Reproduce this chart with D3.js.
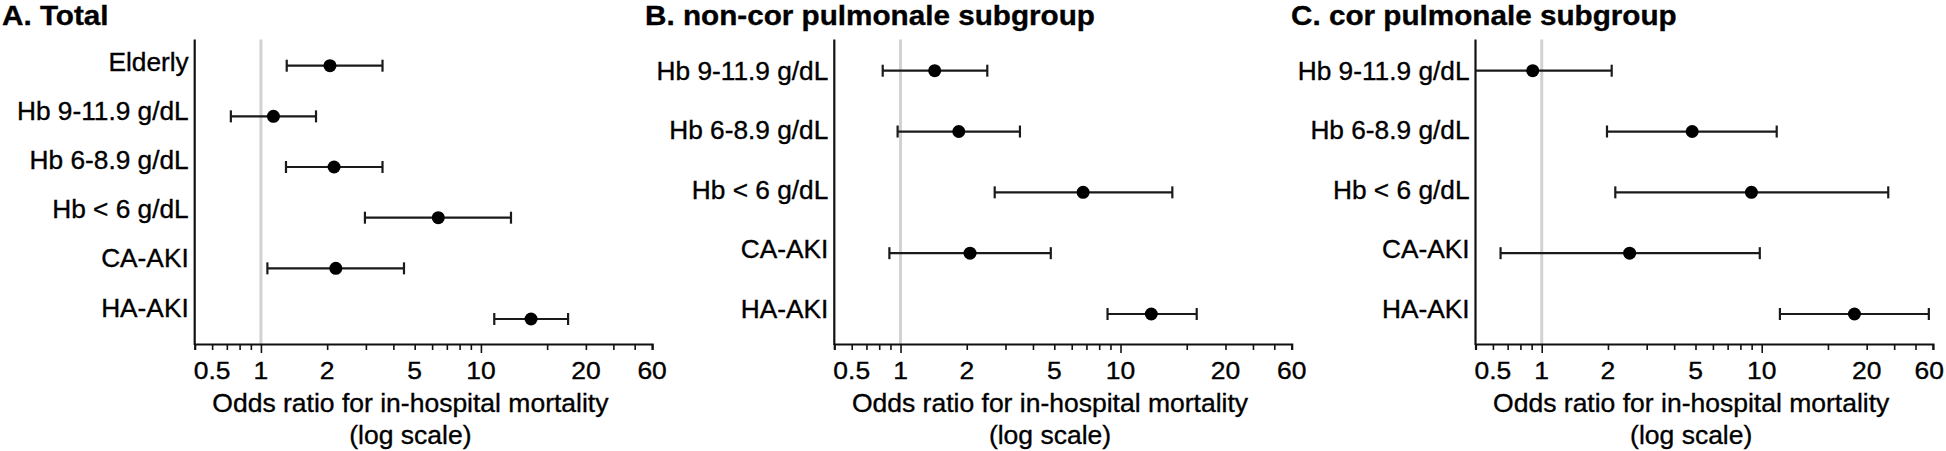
<!DOCTYPE html>
<html>
<head>
<meta charset="utf-8">
<script src="https://cdn.jsdelivr.net/npm/d3@7"></script>
<style>
  html, body { margin: 0; padding: 0; background: #fff; }
  svg { display: block; }
  text { font-family: "Liberation Sans", Arial, Helvetica, sans-serif; fill: #000; stroke: #000; stroke-width: 0.35px; }
</style>
</head>
<body>
<svg id="chart" width="1946" height="451"></svg>
<script>
// ---------------- data ----------------
const catsA = ["Elderly", "Hb 9-11.9 g/dL", "Hb 6-8.9 g/dL", "Hb < 6 g/dL", "CA-AKI", "HA-AKI"];
const orA = [2.06, 1.14, 2.15, 6.40, 2.19, 16.9];
const loA = [1.31, 0.73, 1.30, 2.97, 1.07, 11.5];
const hiA = [3.57, 1.78, 3.57, 13.7, 4.47, 24.9];

const catsB = ["Hb 9-11.9 g/dL", "Hb 6-8.9 g/dL", "Hb < 6 g/dL", "CA-AKI", "HA-AKI"];
const orB = [1.43, 1.84, 6.76, 2.07, 13.8];
const loB = [0.83, 0.97, 2.68, 0.89, 8.73];
const hiB = [2.48, 3.49, 17.2, 4.82, 22.2];

const catsC = ["Hb 9-11.9 g/dL", "Hb 6-8.9 g/dL", "Hb < 6 g/dL", "CA-AKI", "HA-AKI"];
const orC = [0.91, 4.83, 8.98, 2.51, 26.4];
const loC = [0.45, 1.98, 2.16, 0.65, 12.1];
const hiC = [2.08, 11.7, 37.6, 9.8, 57.5];

const xDomain = [0.5, 60];
const xTickVals = [0.6, 0.7, 0.8, 0.9, 1, 2, 3, 4, 5, 6, 7, 8, 9, 10, 20, 30, 40, 50, 60];
const majorTicks = [1, 10];
const tickLabelPos = [0.6, 1, 2, 5, 10, 30, 60];
const tickLabelText = ["0.5", "1", "2", "5", "10", "20", "60"];
const refValue = 1;

const titles = ["A. Total", "B. non-cor pulmonale subgroup", "C. cor pulmonale subgroup"];
const axisTitle1 = "Odds ratio for in-hospital mortality";
const axisTitle2 = "(log scale)";

// ---------------- layout ----------------
const svg = d3.select("#chart");
const W = 1946;
const plotW = 457.4, plotTop = 39.5, plotBottom = 344;

const panels = [
  { title: titles[0], titleX: 2, left: 194.7, cats: catsA, or: orA, lo: loA, hi: hiA,
    rows: [65.7, 319], labs: [62, 307.5] },
  { title: titles[1], titleX: 645, left: 834.3, cats: catsB, or: orB, lo: loB, hi: hiB,
    rows: [70.7, 314], labs: [70.7, 308.5] },
  { title: titles[2], titleX: 1291, left: 1475.5, cats: catsC, or: orC, lo: loC, hi: hiC,
    rows: [70.7, 314], labs: [70.7, 308.5] }
];

function stretchText(g, x, y, txt, opts) {
  return g.append("text")
    .attr("transform", `translate(${x},${y}) scale(${opts.sx || 1},1)`)
    .attr("text-anchor", opts.anchor || "start")
    .style("font-size", opts.size + "px")
    .style("font-weight", opts.weight || "normal")
    .text(txt);
}

panels.forEach(p => {
  const g = svg.append("g");
  const x = d3.scaleLog().domain(xDomain).range([p.left, p.left + plotW]);
  const y = d3.scalePoint().domain(p.cats).range(p.rows);
  const yLab = d3.scalePoint().domain(p.cats).range(p.labs);
  const yLin = d3.scaleLinear().domain([0, 1]).range([plotBottom, plotTop]);

  stretchText(g, p.titleX, 25, p.title, { size: 28, weight: "bold", sx: 1.06 });

  g.append("line")
    .attr("x1", x(refValue)).attr("x2", x(refValue))
    .attr("y1", yLin(1)).attr("y2", yLin(0))
    .attr("stroke", "#d2d2d2").attr("stroke-width", 3);

  g.append("line")
    .attr("x1", x(xDomain[0])).attr("x2", x(xDomain[0]))
    .attr("y1", yLin(1)).attr("y2", yLin(0) + 1)
    .attr("stroke", "#111").attr("stroke-width", 2.2);

  const xAxis = d3.axisBottom(x).tickValues(xTickVals).tickFormat("").tickSizeOuter(0).tickSize(6);
  const ax = g.append("g").attr("transform", `translate(0,${plotBottom})`).call(xAxis);
  ax.select(".domain").attr("stroke", "#111").attr("stroke-width", 2.2);
  ax.selectAll(".tick line").attr("stroke", "#111").attr("stroke-width", 1.6)
    .attr("y2", d => majorTicks.includes(d) ? 9 : 6);
  ax.selectAll(".tick text").remove();

  tickLabelPos.forEach((v, i) => {
    const t = stretchText(g, x(v), 379, tickLabelText[i], { size: 24.5, anchor: "middle", sx: 1.08 });
    const bb = t.node().getBoundingClientRect();
    if (bb.right > W - 2) {
      t.attr("transform", `translate(${x(v) - (bb.right - (W - 2))},379) scale(1.08,1)`);
    }
  });

  p.cats.forEach(c => {
    stretchText(g, x(xDomain[0]) - 6, yLab(c) + 9, c, { size: 25.5, anchor: "end", sx: 1.03 });
  });

  const cx = (x.range()[0] + x.range()[1]) / 2 - 13;
  stretchText(g, cx, 411.5, axisTitle1, { size: 26.5, anchor: "middle" });
  stretchText(g, cx, 444, axisTitle2, { size: 26.5, anchor: "middle" });

  const rows = p.cats.map((c, i) => ({ c, or: p.or[i], lo: p.lo[i], hi: p.hi[i] }));
  const capH = 6;
  const eg = g.append("g");
  rows.forEach(d => {
    const lo = Math.max(d.lo, xDomain[0]);
    eg.append("line")
      .attr("x1", x(lo)).attr("x2", x(d.hi))
      .attr("y1", y(d.c)).attr("y2", y(d.c))
      .attr("stroke", "#1a1a1a").attr("stroke-width", 2.2);
    if (d.lo >= xDomain[0]) {
      eg.append("line")
        .attr("x1", x(d.lo)).attr("x2", x(d.lo))
        .attr("y1", y(d.c) - capH).attr("y2", y(d.c) + capH)
        .attr("stroke", "#1a1a1a").attr("stroke-width", 2.2);
    }
    eg.append("line")
      .attr("x1", x(d.hi)).attr("x2", x(d.hi))
      .attr("y1", y(d.c) - capH).attr("y2", y(d.c) + capH)
      .attr("stroke", "#1a1a1a").attr("stroke-width", 2.2);
    eg.append("circle")
      .attr("cx", x(d.or)).attr("cy", y(d.c)).attr("r", 6.5)
      .attr("fill", "#000");
  });
});
</script>
</body>
</html>
